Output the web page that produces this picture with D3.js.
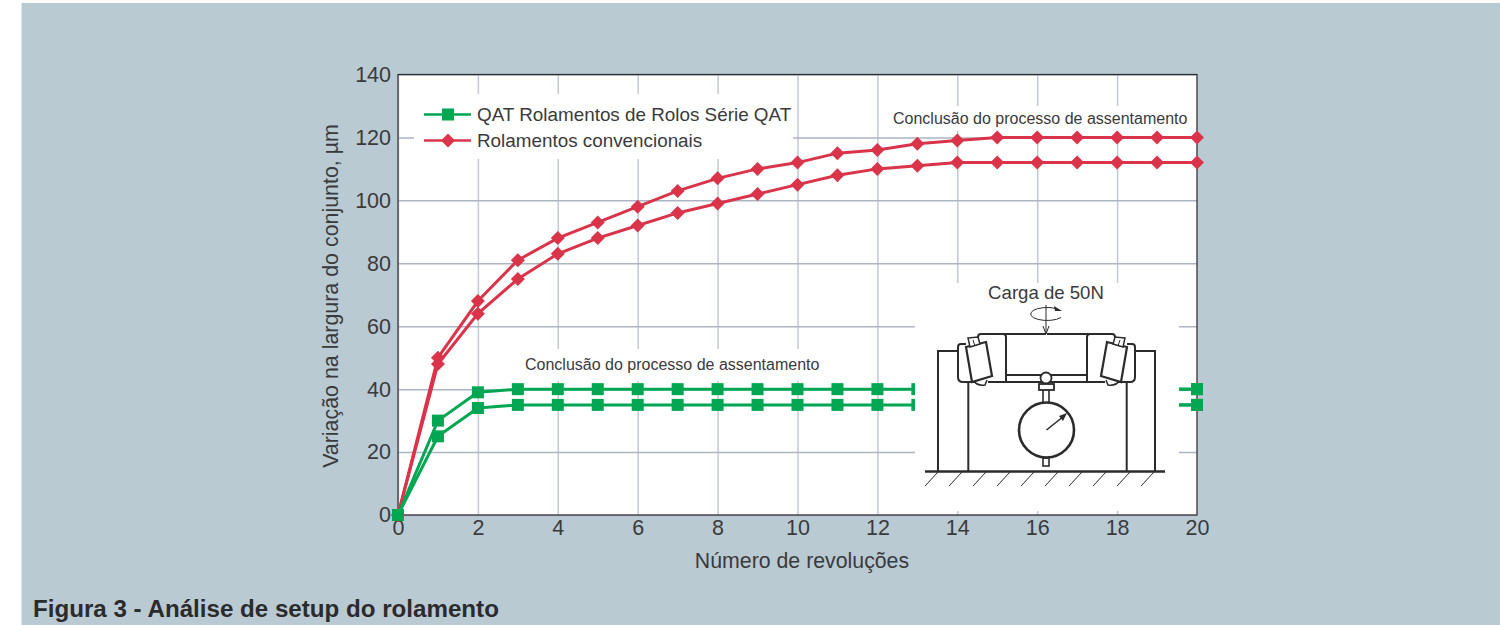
<!DOCTYPE html>
<html>
<head>
<meta charset="utf-8">
<script src="https://cdn.jsdelivr.net/npm/d3@7"></script>
<style>
  html, body { margin: 0; padding: 0; background: #fff; }
  svg { display: block; }
  text { font-family: "Liberation Sans", Arial, sans-serif; fill: #3a3a3c; }
</style>
</head>
<body>
<svg id="chart" width="1500" height="625"></svg>
<script>
const revolutions = d3.range(0, 21);
const qatUpper = [0, 30, 39, 40, 40, 40, 40, 40, 40, 40, 40, 40, 40, 40, 40, 40, 40, 40, 40, 40, 40];
const qatLower = [0, 25, 34, 35, 35, 35, 35, 35, 35, 35, 35, 35, 35, 35, 35, 35, 35, 35, 35, 35, 35];
const convUpper = [0, 50, 68, 81, 88, 93, 98, 103, 107, 110, 112, 115, 116, 118, 119, 120, 120, 120, 120, 120, 120];
const convLower = [0, 48, 64, 75, 83, 88, 92, 96, 99, 102, 105, 108, 110, 111, 112, 112, 112, 112, 112, 112, 112];
const xTicks = [0, 2, 4, 6, 8, 10, 12, 14, 16, 18, 20];
const yTicks = [0, 20, 40, 60, 80, 100, 120, 140];
const legendLabels = ["QAT Rolamentos de Rolos Série QAT", "Rolamentos convencionais"];

const green = "#00a651";
const red = "#d9344a";
const ink = "#2b2b2d";

const margin = { top: 74.5, left: 398, right: 1197, bottom: 515 };

const svg = d3.select("#chart");

// panel background
svg.append("rect")
    .attr("x", 21.5).attr("y", 3)
    .attr("width", 1478.5).attr("height", 622)
    .attr("fill", "#b9cad3");

var x = d3.scaleLinear().domain([0, 20]).range([margin.left, margin.right]);
var y = d3.scaleLinear().domain([0, 140]).range([margin.bottom, margin.top]);

// plot background
svg.append("rect")
    .attr("x", margin.left).attr("y", margin.top)
    .attr("width", margin.right - margin.left)
    .attr("height", margin.bottom - margin.top)
    .attr("fill", "#fff");

// grid
var xGrid = d3.axisBottom(x).tickValues(xTicks).tickSize(-(margin.bottom - margin.top)).tickFormat("");
var yGrid = d3.axisLeft(y).tickValues(yTicks).tickSize(-(margin.right - margin.left)).tickFormat("");

svg.append("g").attr("transform", "translate(0," + margin.bottom + ")").call(xGrid)
    .call(g => g.select(".domain").remove())
    .selectAll("line").attr("stroke", "#c3c8d2").attr("stroke-width", 1.5);
svg.append("g").attr("transform", "translate(" + margin.left + ",0)").call(yGrid)
    .call(g => g.select(".domain").remove())
    .selectAll("line").attr("stroke", "#adb4c3").attr("stroke-width", 1.5);

// white masks behind the legend and both notes
svg.append("rect").attr("x", 414).attr("y", 94).attr("width", 379).attr("height", 65).attr("fill", "#fff");
svg.append("rect").attr("x", 890).attr("y", 106).attr("width", 302).attr("height", 25).attr("fill", "#fff");
svg.append("rect").attr("x", 522).attr("y", 349).attr("width", 300).attr("height", 32).attr("fill", "#fff");

// frame
svg.append("rect")
    .attr("x", margin.left).attr("y", margin.top)
    .attr("width", margin.right - margin.left)
    .attr("height", margin.bottom - margin.top)
    .attr("fill", "none").attr("stroke", ink).attr("stroke-width", 1.2);

// axis labels
var xAxis = d3.axisBottom(x).tickValues(xTicks).tickSize(0).tickPadding(5);
var yAxis = d3.axisLeft(y).tickValues(yTicks).tickSize(0).tickPadding(7);

svg.append("g").attr("transform", "translate(0," + margin.bottom + ")").call(xAxis)
    .call(g => g.select(".domain").remove())
    .selectAll("text").style("font-size", "21.5px").style("font-family", "Liberation Sans").attr("fill", "#3a3a3c");
svg.append("g").attr("transform", "translate(" + margin.left + ",0)").call(yAxis)
    .call(g => g.select(".domain").remove())
    .selectAll("text").style("font-size", "21.5px").style("font-family", "Liberation Sans").attr("fill", "#3a3a3c");

svg.append("text").attr("x", 802).attr("y", 568).attr("text-anchor", "middle")
    .style("font-size", "21.3px").text("Número de revoluções");
svg.append("text").attr("transform", "translate(338,296) rotate(-90)").attr("text-anchor", "middle")
    .style("font-size", "21.4px").text("Variação na largura do conjunto, µm");

// series
var line = d3.line().x(function(d, i) { return x(revolutions[i]); }).y(function(d) { return y(d); });
var square = d3.symbol().type(d3.symbolSquare).size(144)();
var diamond = "M0,-7L7,0L0,7L-7,0Z";
var seriesList = [
    { values: convUpper, color: red, mark: diamond },
    { values: convLower, color: red, mark: diamond },
    { values: qatLower, color: green, mark: square },
    { values: qatUpper, color: green, mark: square }
];

seriesList.forEach(function(s) {
    svg.append("path").attr("d", line(s.values)).attr("fill", "none")
        .attr("stroke", s.color).attr("stroke-width", 3);
    svg.selectAll(null).data(s.values).enter().append("path")
        .attr("d", s.mark)
        .attr("transform", function(d, i) { return "translate(" + x(revolutions[i]) + "," + y(d) + ")"; })
        .attr("fill", s.color);
});

// inset panel covers the green lines
var inset = svg.append("g");
inset.append("rect").attr("x", 915).attr("y", 283).attr("width", 264).attr("height", 228).attr("fill", "#fff");

// legend
legendLabels.forEach(function(label, i) {
    var ly = 114.5 + i * 26;
    var c = i === 0 ? green : red;
    svg.append("line").attr("x1", 424).attr("x2", 471).attr("y1", ly).attr("y2", ly)
        .attr("stroke", c).attr("stroke-width", 2.5);
    svg.append("path").attr("d", i === 0 ? square : diamond)
        .attr("transform", "translate(448," + ly + ")").attr("fill", c);
    svg.append("text").attr("x", 477).attr("y", ly + 6.5).style("font-size", "18.85px").text(label);
});

// notes
svg.append("text").attr("x", 893).attr("y", 123.5).style("font-size", "16px").text("Conclusão do processo de assentamento");
svg.append("text").attr("x", 525).attr("y", 370).style("font-size", "16px").text("Conclusão do processo de assentamento");

// inset drawing of the test rig
function stroke(sel, w) { return sel.attr("fill", "none").attr("stroke", ink).attr("stroke-width", w || 2); }

inset.append("text").attr("x", 1046).attr("y", 299).attr("text-anchor", "middle").style("font-size", "18.6px").text("Carga de 50N");

// load arrow and rotation
stroke(inset.append("path").attr("d", "M1056,308.5A16.5,6.5 0 1 0 1061,317.5"), 1);
inset.append("path").attr("d", "M1062,311L1054,306L1055,311Z").attr("fill", ink);
stroke(inset.append("line").attr("x1", 1046).attr("y1", 305).attr("x2", 1046).attr("y2", 333), 1);
stroke(inset.append("path").attr("d", "M1043,326L1046,334L1049,326"), 1);

// ground with hatching
stroke(inset.append("line").attr("x1", 925).attr("x2", 1165).attr("y1", 471.5).attr("y2", 471.5), 2.4);
d3.range(10).forEach(function(i) {
    var gx = 938 + i * 24;
    stroke(inset.append("line").attr("x1", gx).attr("y1", 472).attr("x2", gx - 13).attr("y2", 486), 1);
});

// inner housing walls
stroke(inset.append("line").attr("x1", 968.3).attr("x2", 968.3).attr("y1", 382).attr("y2", 471));
stroke(inset.append("line").attr("x1", 1126.7).attr("x2", 1126.7).attr("y1", 382).attr("y2", 471));

// one side of the bearing, drawn again mirrored around the shaft
function bearingSide(g) {
    stroke(g.append("path").attr("d", "M938,471V351H959"));
    stroke(g.append("path").attr("d", "M966,344H961Q958,344 958,347V377Q958,382 963,382H975"));
    stroke(g.append("path").attr("d", "M978,340V337Q978,334 981,334H1003Q1006,334 1006,337V382M988,382H1046"));
    stroke(g.append("line").attr("x1", 1006).attr("x2", 1046).attr("y1", 375).attr("y2", 375));
    stroke(g.append("line").attr("x1", 1003).attr("x2", 1046).attr("y1", 334).attr("y2", 334));
    g.append("path").attr("d", "M966,347L986,342L992,376L972,382Z").attr("fill", "#fff").attr("stroke", ink).attr("stroke-width", 2.2);
    g.append("path").attr("d", "M968,338L978,337L980,344L970,347Z").attr("fill", "#fff").attr("stroke", ink).attr("stroke-width", 1.5);
    stroke(g.append("path").attr("d", "M973,340L975,346"), 1);
    stroke(g.append("path").attr("d", "M974,381Q977,386 985,385L987,380"), 1.5);
}
bearingSide(inset.append("g"));
bearingSide(inset.append("g").attr("transform", "translate(2093,0) scale(-1,1)"));

// dial gauge
inset.append("circle").attr("cx", 1046).attr("cy", 378).attr("r", 5.5).attr("fill", "#fff").attr("stroke", ink).attr("stroke-width", 1.8);
inset.append("rect").attr("x", 1039).attr("y", 384).attr("width", 15).attr("height", 6).attr("fill", "#fff").attr("stroke", ink).attr("stroke-width", 1.8);
stroke(inset.append("path").attr("d", "M1043,390V402M1049,390V402"), 1.6);
inset.append("circle").attr("cx", 1046.5).attr("cy", 430).attr("r", 27.5).attr("fill", "#fff").attr("stroke", ink).attr("stroke-width", 2.6);
stroke(inset.append("line").attr("x1", 1046.5).attr("y1", 430).attr("x2", 1064).attr("y2", 416), 1.6);
inset.append("path").attr("d", "M1067,413L1059,416L1063,421Z").attr("fill", ink);
stroke(inset.append("rect").attr("x", 1043).attr("y", 458).attr("width", 6).attr("height", 8), 1.6);

// green ends to the right of the inset
[qatUpper, qatLower].forEach(function(vals) {
    var last = vals[vals.length - 1];
    svg.append("line").attr("x1", x(20) - 18).attr("x2", x(20)).attr("y1", y(last)).attr("y2", y(last))
        .attr("stroke", green).attr("stroke-width", 3);
    svg.append("path").attr("d", square)
        .attr("transform", "translate(" + x(20) + "," + y(last) + ")").attr("fill", green);
});

// caption
svg.append("text").attr("x", 33).attr("y", 617).style("font-size", "24.15px").style("font-weight", "bold")
    .style("fill", "#2b2b2d").text("Figura 3 - Análise de setup do rolamento");
</script>
</body>
</html>
